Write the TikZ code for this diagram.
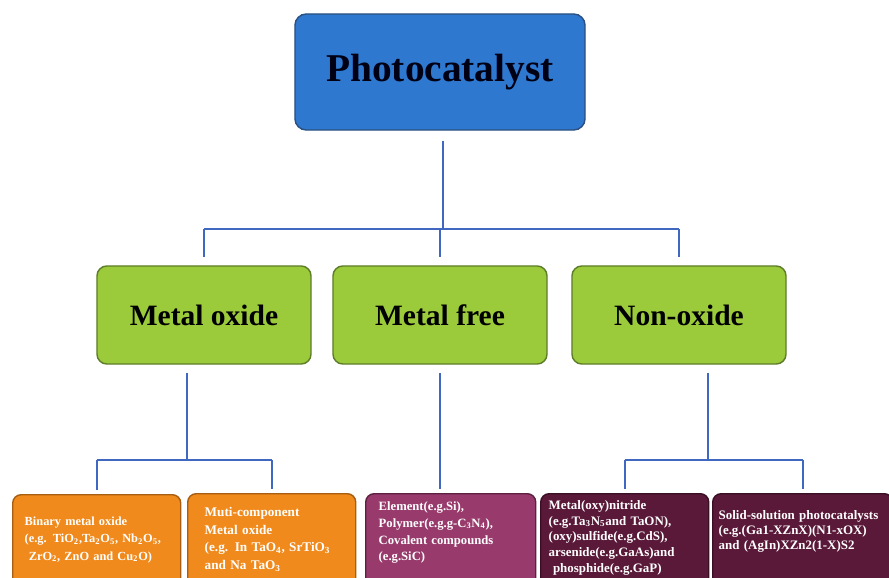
\documentclass[tikz,border=0pt]{standalone}
\usepackage{fontspec}
\setmainfont{Liberation Serif}
\usepackage{tikz}
\definecolor{rootblue}{HTML}{2E78CF}
\definecolor{rootedge}{HTML}{2A4F80}
\definecolor{classgreen}{HTML}{9BCB3A}
\definecolor{classedge}{HTML}{5E7D2A}
\definecolor{leaforange}{HTML}{F08A1C}
\definecolor{orangeedge}{HTML}{A85E12}
\definecolor{leafrose}{HTML}{983B6C}
\definecolor{roseedge}{HTML}{5C2040}
\definecolor{leafwine}{HTML}{5A1939}
\definecolor{wineedge}{HTML}{3A0E24}
\definecolor{linkblue}{HTML}{4068C0}
\newcommand{\ssub}[1]{\textsubscript{#1}}

\begin{document}
\begin{tikzpicture}[x=0.025cm, y=-0.025cm,
  link/.style={draw=linkblue, line width=1.4pt},
  rootbox/.style={draw=rootedge, fill=rootblue, line width=1pt, rounded corners=8pt, minimum width=7.25cm, minimum height=2.9cm, text=black!92!blue, font=\bfseries\fontsize{28}{32}\selectfont},
  classbox/.style={draw=classedge, fill=classgreen, line width=1pt, rounded corners=7pt, minimum width=5.35cm, minimum height=2.45cm, font=\bfseries\fontsize{21}{25}\selectfont},
  leaf/.style={anchor=north west, rounded corners=6pt, line width=1pt, align=left, text=white, text depth=2.5cm, font=\bfseries\fontsize{9}{11.8}\selectfont}]
\useasboundingbox (0,0) rectangle (889,578);
\clip (0,0) rectangle (889,578);
\fill[white] (0,0) rectangle (889,578);

% Root
\node[rootbox] (photo) at (440,72) {Photocatalyst};

% Classes
\node[classbox] (moxide) at (204,315) {Metal oxide};
\node[classbox] (mfree) at (440,315) {Metal free};
\node[classbox] (nonox) at (679,315) {Non-oxide};

% Examples below each class
\node[leaf, draw=orangeedge, fill=leaforange, text width=3.6cm, inner xsep=0.3cm, inner ysep=16pt, font=\bfseries\fontsize{8.8}{12.2}\selectfont] (binary) at (12,494)
  {Binary metal oxide\\(e.g. TiO\ssub{2},Ta\ssub{2}O\ssub{5}, Nb\ssub{2}O\ssub{5},\\\ ZrO\ssub{2}, ZnO and Cu\ssub{2}O)};
\node[leaf, draw=orangeedge, fill=leaforange, text width=3.35cm, inner xsep=0.425cm, inner ysep=9.6pt, font=\bfseries\fontsize{9.4}{12.6}\selectfont] (multi) at (187,493)
  {Muti-component\\Metal oxide\\(e.g. In TaO\ssub{4}, SrTiO\ssub{3}\\and Na TaO\ssub{3}};
\node[leaf, draw=roseedge, fill=leafrose, text width=3.6cm, inner xsep=0.325cm, inner ysep=6pt] (element) at (365,493)
  {Element(e.g.Si),\\Polymer(e.g.g-C\ssub{3}N\ssub{4}),\\Covalent compounds\\(e.g.SiC)};
\node[leaf, draw=wineedge, fill=leafwine, text width=3.8cm, inner xsep=0.2cm, inner ysep=4.6pt, font=\bfseries\fontsize{9.2}{11.3}\selectfont] (nitride) at (540,493)
  {Metal(oxy)nitride\\(e.g.Ta\ssub{3}N\ssub{5}and TaON),\\(oxy)sulfide(e.g.CdS),\\arsenide(e.g.GaAs)and\\\ phosphide(e.g.GaP)};
\node[leaf, draw=wineedge, fill=leafwine, text width=4.2cm, inner xsep=0.15cm, inner ysep=11.7pt, font=\bfseries\fontsize{9.2}{10.8}\selectfont] (solid) at (712,493)
  {Solid-solution photocatalysts\\(e.g.(Ga1-XZnX)(N1-xOX)\\and (AgIn)XZn2(1-X)S2};

% Root to classes
\coordinate (busA) at (443,229);
\draw[link, shorten <=7pt] (busA |- photo.south) -- (busA);
\draw[link] (moxide.north |- busA) -- (nonox.north |- busA);
\foreach \n in {moxide, mfree, nonox}
  \draw[link, shorten >=6pt] (\n.north |- busA) -- (\n.north);

% Metal oxide branch
\coordinate (busB) at (187,460);
\draw[link, shorten <=6pt] (busB |- moxide.south) -- (busB);
\draw[link] (binary.north |- busB) -- (multi.north |- busB);
\foreach \n in {binary, multi}
  \draw[link, shorten >=3pt] (\n.north |- busB) -- (\n.north);

% Metal free branch
\draw[link, shorten <=6pt, shorten >=3pt] (mfree.south) -- (mfree.south |- element.north);

% Non-oxide branch
\coordinate (busC) at (708,460);
\draw[link, shorten <=6pt] (busC |- nonox.south) -- (busC);
\draw[link] (nitride.north |- busC) -- (solid.north |- busC);
\foreach \n in {nitride, solid}
  \draw[link, shorten >=3pt] (\n.north |- busC) -- (\n.north);
\end{tikzpicture}
\end{document}
